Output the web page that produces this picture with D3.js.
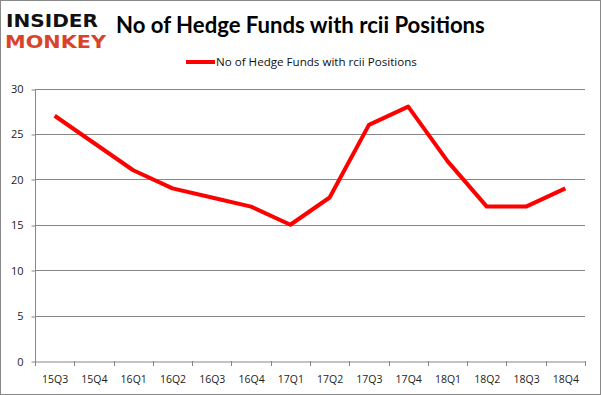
<!DOCTYPE html>
<html><head><meta charset="utf-8">
<script src="https://cdn.jsdelivr.net/npm/d3@7"></script>
<style>body{margin:0;background:#fff}svg{display:block}</style>
</head><body>
<script>
const quarters = ["15Q3","15Q4","16Q1","16Q2","16Q3","16Q4","17Q1","17Q2","17Q3","17Q4","18Q1","18Q2","18Q3","18Q4"];
const funds = [27,24,21,19,18,17,15,18,26,28,22,17,17,19];
const yTicks = [0,5,10,15,20,25,30];
const seriesName = "No of Hedge Funds with rcii Positions";
const titleText = "No of Hedge Funds with rcii Positions";

const W = 601, H = 395;
const svg = d3.select("body").append("svg").attr("width", W).attr("height", H);
svg.append("rect").attr("x",0.5).attr("y",0.5).attr("width",W-1).attr("height",H-1)
  .attr("fill","#fff").attr("stroke","#898989");

const x = d3.scaleBand().domain(quarters).range([35,585]);
const y = d3.scaleLinear().domain([0,30]).range([361,88.5]);

// gridlines
svg.append("g").selectAll("line").data(yTicks.filter(d=>d>0)).join("line")
  .attr("x1",35).attr("x2",585).attr("y1",d=>Math.round(y(d))+0.5).attr("y2",d=>Math.round(y(d))+0.5)
  .attr("stroke","#878787").attr("stroke-width",1);

// y axis
const ya = svg.append("g").attr("transform","translate(35.5,0.5)")
  .call(d3.axisLeft(y).tickValues(yTicks).tickSize(4).tickPadding(8).tickFormat(d3.format("d")));
ya.select(".domain").attr("stroke","#878787").attr("d","M0,"+Math.round(y(30))+"V"+Math.round(y(0)));
ya.selectAll(".tick line").attr("stroke","#878787").attr("transform",d=>"translate(0,"+(Math.round(y(d))-y(d))+")");
ya.selectAll(".tick text").attr("font-family","'Open Sans', 'Liberation Sans', sans-serif").attr("font-size",11).attr("fill","#222");

// x axis
const xa = svg.append("g").attr("transform","translate(0.5,"+(Math.round(y(0))+0.5)+")")
  .call(d3.axisBottom(x).tickSize(0).tickPadding(14));
xa.select(".domain").attr("stroke","#878787");
xa.selectAll(".tick text").attr("font-family","'Open Sans', 'Liberation Sans', sans-serif").attr("font-size",10.5).attr("fill","#222");
// tick marks at band boundaries
const bounds = quarters.map(q=>x(q)).concat([x.range()[1]]);
svg.append("g").selectAll("line").data(bounds).join("line")
  .attr("x1",d=>Math.round(d)+0.5).attr("x2",d=>Math.round(d)+0.5)
  .attr("y1",Math.round(y(0))).attr("y2",Math.round(y(0))+5)
  .attr("stroke","#878787");

// line
const line = d3.line().x((d,i)=>x(quarters[i])+x.bandwidth()/2).y(d=>y(d));
svg.append("path").datum(funds).attr("d",line).attr("fill","none")
  .attr("stroke","#ff0000").attr("stroke-width",4).attr("stroke-linejoin","round").attr("stroke-linecap","butt");

// title
const t = svg.append("text").attr("x",116).attr("y",33).text(titleText)
  .attr("font-family","Lato, 'Open Sans', sans-serif").attr("font-weight","bold").attr("font-size",21).attr("fill","#000");
const tw = t.node().getComputedTextLength();
t.attr("font-size", 21*369/tw);

// legend
svg.append("line").attr("x1",186).attr("x2",215).attr("y1",62).attr("y2",62)
  .attr("stroke","#ff0000").attr("stroke-width",4);
const lt = svg.append("text").attr("x",216).attr("y",66).text(seriesName)
  .attr("font-family","'Open Sans', 'Liberation Sans', sans-serif").attr("font-size",11).attr("fill","#111");
const lw = lt.node().getComputedTextLength();
lt.attr("font-size", 11*201/lw);

// logo
svg.append("text").attr("x",6).attr("y",27).text("INSIDER")
  .attr("font-family","'DejaVu Sans', sans-serif").attr("font-weight","bold").attr("font-size",18)
  .attr("textLength",92).attr("lengthAdjust","spacingAndGlyphs").attr("fill","#111");
svg.append("text").attr("x",5).attr("y",48).text("MONKEY")
  .attr("font-family","'DejaVu Sans', sans-serif").attr("font-weight","bold").attr("font-size",18)
  .attr("textLength",101).attr("lengthAdjust","spacingAndGlyphs").attr("fill","#d8432a");
</script>
</body></html>
